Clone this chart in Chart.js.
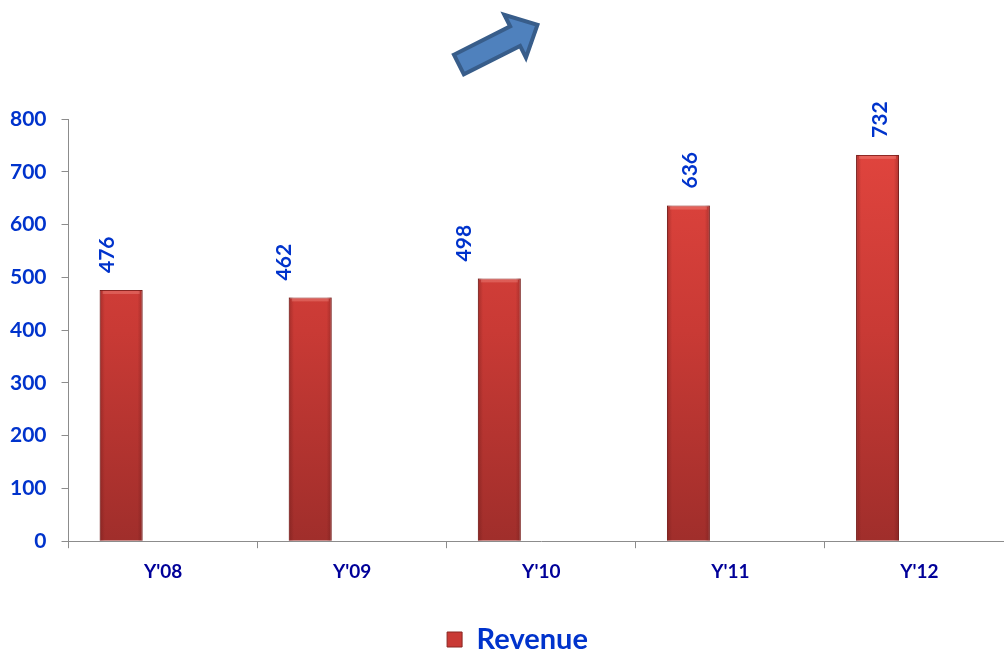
<!DOCTYPE html>
<html>
<head>
<meta charset="utf-8">
<script src="https://cdn.jsdelivr.net/npm/chart.js@4"></script>
<style>
html, body { margin: 0; padding: 0; background: #fff; overflow: hidden; }
#wrap { position: relative; width: 1004px; height: 652px; overflow: hidden; }
#arrow { position: absolute; left: 0; top: 0; }
</style>
</head>
<body>
<div id="wrap">
<canvas id="grafico" width="1014" height="664"></canvas>
<svg id="arrow" width="1004" height="110">
  <polygon transform="translate(458,65) rotate(-26.8)"
    points="1,-11 64,-11 64,-24 89,0 64,24 64,11 1,11"
    fill="#4F81BD" stroke="#385D8A" stroke-width="4" stroke-linejoin="miter"/>
</svg>
</div>
<script>
// ======================================
// Revenue by year
// ======================================

const anos = ["Y'08", "Y'09", "Y'10", "Y'11", "Y'12"];
const receita = [476, 462, 498, 636, 732];
const vazio = [null, null, null, null, null];
const ticksY = [0, 100, 200, 300, 400, 500, 600, 700, 800];

// deslocamento horizontal dos rótulos (como no original)
const rotuloDx = [-14, -26, -35, 2, 3];

const azul = "#0033CC";
const marinho = "#000099";
const fonte = "Lato, 'Open Sans', sans-serif";

function gradienteBarra(context) {
    const chart = context.chart;
    const area = chart.chartArea;
    if (!area) {
        return "#C83A35";
    }
    const g = chart.ctx.createLinearGradient(0, area.top, 0, area.bottom);
    g.addColorStop(0, "#E4463F");
    g.addColorStop(0.5, "#C93A35");
    g.addColorStop(1, "#A02E2B");
    return g;
}

// brilho lateral das barras
const bisel = {
    id: "bisel",
    afterDatasetsDraw(chart) {
        const ctx = chart.ctx;
        const meta = chart.getDatasetMeta(0);
        meta.data.forEach(function (bar) {
            const left = bar.x - bar.width / 2;
            const top = bar.y;
            const h = bar.base - bar.y;
            ctx.save();
            const g = ctx.createLinearGradient(left, 0, left + bar.width, 0);
            g.addColorStop(0, "rgba(90,20,20,0.35)");
            g.addColorStop(0.12, "rgba(90,20,20,0)");
            g.addColorStop(0.88, "rgba(90,20,20,0)");
            g.addColorStop(1, "rgba(90,20,20,0.35)");
            ctx.fillStyle = g;
            ctx.fillRect(left, top, bar.width, h);
            ctx.fillStyle = "rgba(255,170,160,0.3)";
            ctx.fillRect(left + 3, top + 1, bar.width - 6, 3);
            ctx.restore();
        });
    }
};

// rótulos verticais acima das barras
const rotulos = {
    id: "rotulos",
    afterDatasetsDraw(chart) {
        const ctx = chart.ctx;
        const meta = chart.getDatasetMeta(0);
        meta.data.forEach(function (bar, i) {
            ctx.save();
            ctx.translate(bar.x + rotuloDx[i], bar.y - 17);
            ctx.rotate(-Math.PI / 2);
            ctx.font = "bold 21px " + fonte;
            ctx.fillStyle = azul;
            ctx.textAlign = "left";
            ctx.textBaseline = "middle";
            ctx.fillText(String(receita[i]), 0, 0);
            ctx.restore();
        });
    }
};

// legenda um pouco mais à direita
const legendaDireita = {
    id: "legendaDireita",
    afterLayout(chart) {
        if (chart.legend) {
            chart.legend.left += 13;
            chart.legend.right += 13;
        }
    }
};

const grafico = document.getElementById("grafico");

new Chart(grafico, {
    type: "bar",
    data: {
        labels: anos,
        datasets: [{
            label: "Revenue",
            data: receita,
            backgroundColor: gradienteBarra,
            borderColor: "#8A2622",
            borderWidth: 1,
            categoryPercentage: 0.887,
            barPercentage: 0.512
        }, {
            label: "",
            data: vazio,
            backgroundColor: "rgba(0,0,0,0)",
            categoryPercentage: 0.887,
            barPercentage: 0.512
        }]
    },
    options: {
        responsive: false,
        animation: false,
        layout: {
            padding: { top: 119, left: -5, right: 0, bottom: 0 }
        },
        scales: {
            x: {
                afterFit(scale) {
                    scale.height += 22;
                },
                grid: {
                    display: true,
                    drawOnChartArea: false,
                    tickLength: 7,
                    color: "#8C8C8C"
                },
                border: { display: true, color: "#8C8C8C", width: 1 },
                ticks: {
                    color: marinho,
                    padding: 12,
                    font: { family: fonte, size: 19, weight: "bold" }
                }
            },
            y: {
                min: 0,
                max: 800,
                afterBuildTicks(axis) {
                    axis.ticks = ticksY.map(function (v) { return { value: v }; });
                },
                grid: {
                    display: true,
                    drawOnChartArea: false,
                    tickLength: 7,
                    color: "#8C8C8C"
                },
                border: { display: true, color: "#8C8C8C", width: 1 },
                ticks: {
                    color: azul,
                    padding: 15,
                    font: { family: fonte, size: 21, weight: "bold" }
                }
            }
        },
        plugins: {
            legend: {
                position: "bottom",
                labels: {
                    filter: function (item) { return item.text !== ""; },
                    color: azul,
                    boxWidth: 15,
                    boxHeight: 15,
                    padding: 8,
                    font: { family: fonte, size: 29, weight: "bold" },
                    generateLabels: function (chart) {
                        return [{
                            text: "Revenue",
                            fillStyle: "#C93A35",
                            strokeStyle: "#8A2622",
                            lineWidth: 1,
                            fontColor: azul,
                            datasetIndex: 0
                        }];
                    }
                }
            },
            tooltip: { enabled: false }
        }
    },
    plugins: [bisel, rotulos, legendaDireita]
});
</script>
</body>
</html>
